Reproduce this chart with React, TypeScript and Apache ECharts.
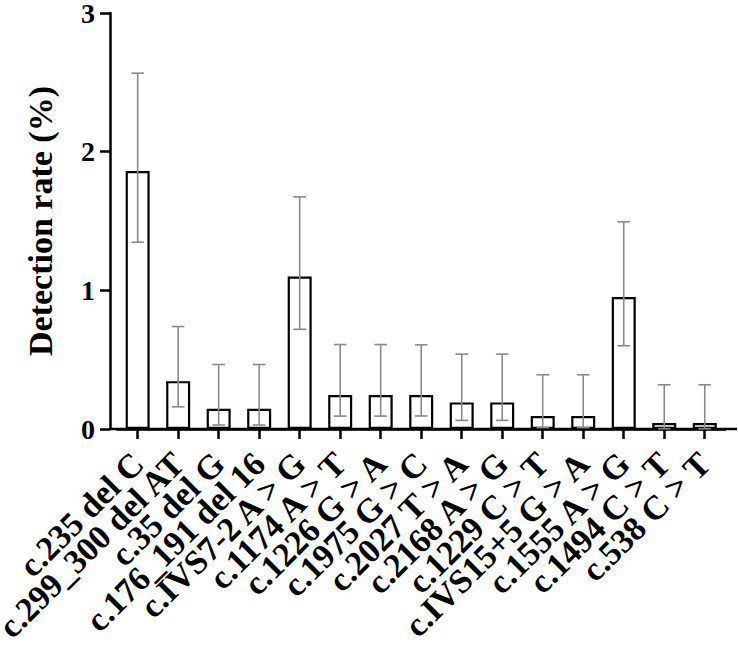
import React, { useEffect, useRef } from "react";
import * as echarts from "echarts";

// Variant labels along the x axis
const variants = [
  "c.235 del C",
  "c.299_300 del AT",
  "c.35 del G",
  "c.176_191 del 16",
  "c.IVS7-2 A > G",
  "c.1174 A > T",
  "c.1226 G > A",
  "c.1975 G > C",
  "c.2027 T > A",
  "c.2168 A > G",
  "c.1229 C > T",
  "c.IVS15+5 G > A",
  "c.1555 A > G",
  "c.1494 C > T",
  "c.538 C > T",
];

// Detection rate (%) per variant
const rates = [1.86, 0.345, 0.146, 0.146, 1.1, 0.245, 0.245, 0.245, 0.192, 0.192, 0.094, 0.094, 0.952, 0.043, 0.043];

// 95% confidence interval bounds (%)
const ciUpper = [2.566, 0.739, 0.465, 0.465, 1.674, 0.609, 0.609, 0.607, 0.54, 0.54, 0.391, 0.391, 1.494, 0.319, 0.319];
const ciLower = [1.347, 0.16, 0.029, 0.029, 0.719, 0.093, 0.093, 0.094, 0.062, 0.062, 0.01, 0.01, 0.6, 0.002, 0.002];

const yTicks = [0, 1, 2, 3];

const FONT = "'Liberation Serif', 'Times New Roman', serif";

export default function App() {
  const ref = useRef<HTMLDivElement>(null);

  useEffect(() => {
    if (!ref.current) return;
    const chart = echarts.init(ref.current, null, { renderer: "svg" });

    const errorData = variants.map((_, i) => [i, ciLower[i], ciUpper[i]]);

    chart.setOption({
      animation: false,
      backgroundColor: "#ffffff",
      grid: {
        left: 117.4,
        top: 13,
        width: 607.6,
        bottom: 222,
        containLabel: false,
        outerBoundsMode: "none",
      },
      xAxis: {
        type: "category",
        data: variants,
        axisLine: { show: true, lineStyle: { color: "#000", width: 2.5 } },
        axisTick: { show: true, alignWithLabel: true, length: 10, lineStyle: { color: "#000", width: 2.5 } },
        axisLabel: {
          rotate: 45,
          interval: 0,
          margin: 29,
          color: "#000",
          fontFamily: FONT,
          fontWeight: "bold",
          fontSize: 34,
        },
        splitLine: { show: false },
      },
      yAxis: {
        type: "value",
        min: yTicks[0],
        max: yTicks[yTicks.length - 1],
        interval: 1,
        offset: 7.4,
        name: "Detection rate (%)",
        nameLocation: "middle",
        nameGap: 53,
        nameTextStyle: { color: "#000", fontFamily: FONT, fontWeight: "bold", fontSize: 34 },
        axisLine: { show: true, lineStyle: { color: "#000", width: 2.5 } },
        axisTick: { show: true, length: 10, lineStyle: { color: "#000", width: 2.5 } },
        axisLabel: {
          margin: 15,
          color: "#000",
          fontFamily: FONT,
          fontWeight: "bold",
          fontSize: 28,
          lineHeight: 22,
          padding: [5, 0, 0, 0],
        },
        splitLine: { show: false },
      },
      graphic: [
        {
          type: "line",
          z: 0,
          shape: { x1: 110, y1: 429, x2: 737, y2: 429 },
          style: { stroke: "#000", lineWidth: 2.5 },
        },
      ],
      series: [
        {
          type: "bar",
          data: rates,
          barWidth: 24,
          itemStyle: { color: "#ffffff", borderColor: "#000", borderWidth: 2.2 },
          z: 2,
        },
        {
          type: "custom",
          z: 3,
          data: errorData,
          encode: { x: 0, y: [1, 2] },
          renderItem: (params: any, api: any) => {
            const idx = api.value(0);
            const lo = api.coord([idx, api.value(1)]);
            const hi = api.coord([idx, api.value(2)]);
            const half = 6.3;
            const style = { stroke: "#8a8a8a", lineWidth: 1.6 };
            return {
              type: "group",
              children: [
                { type: "line", shape: { x1: hi[0], y1: hi[1], x2: lo[0], y2: lo[1] }, style },
                { type: "line", shape: { x1: hi[0] - half, y1: hi[1], x2: hi[0] + half, y2: hi[1] }, style },
                { type: "line", shape: { x1: lo[0] - half, y1: lo[1], x2: lo[0] + half, y2: lo[1] }, style },
              ],
            };
          },
        },
      ],
    });

    return () => chart.dispose();
  }, []);

  return (
    <div
      ref={ref}
      style={{ position: "fixed", left: 0, top: 0, width: 738, height: 651, background: "#fff" }}
    />
  );
}
